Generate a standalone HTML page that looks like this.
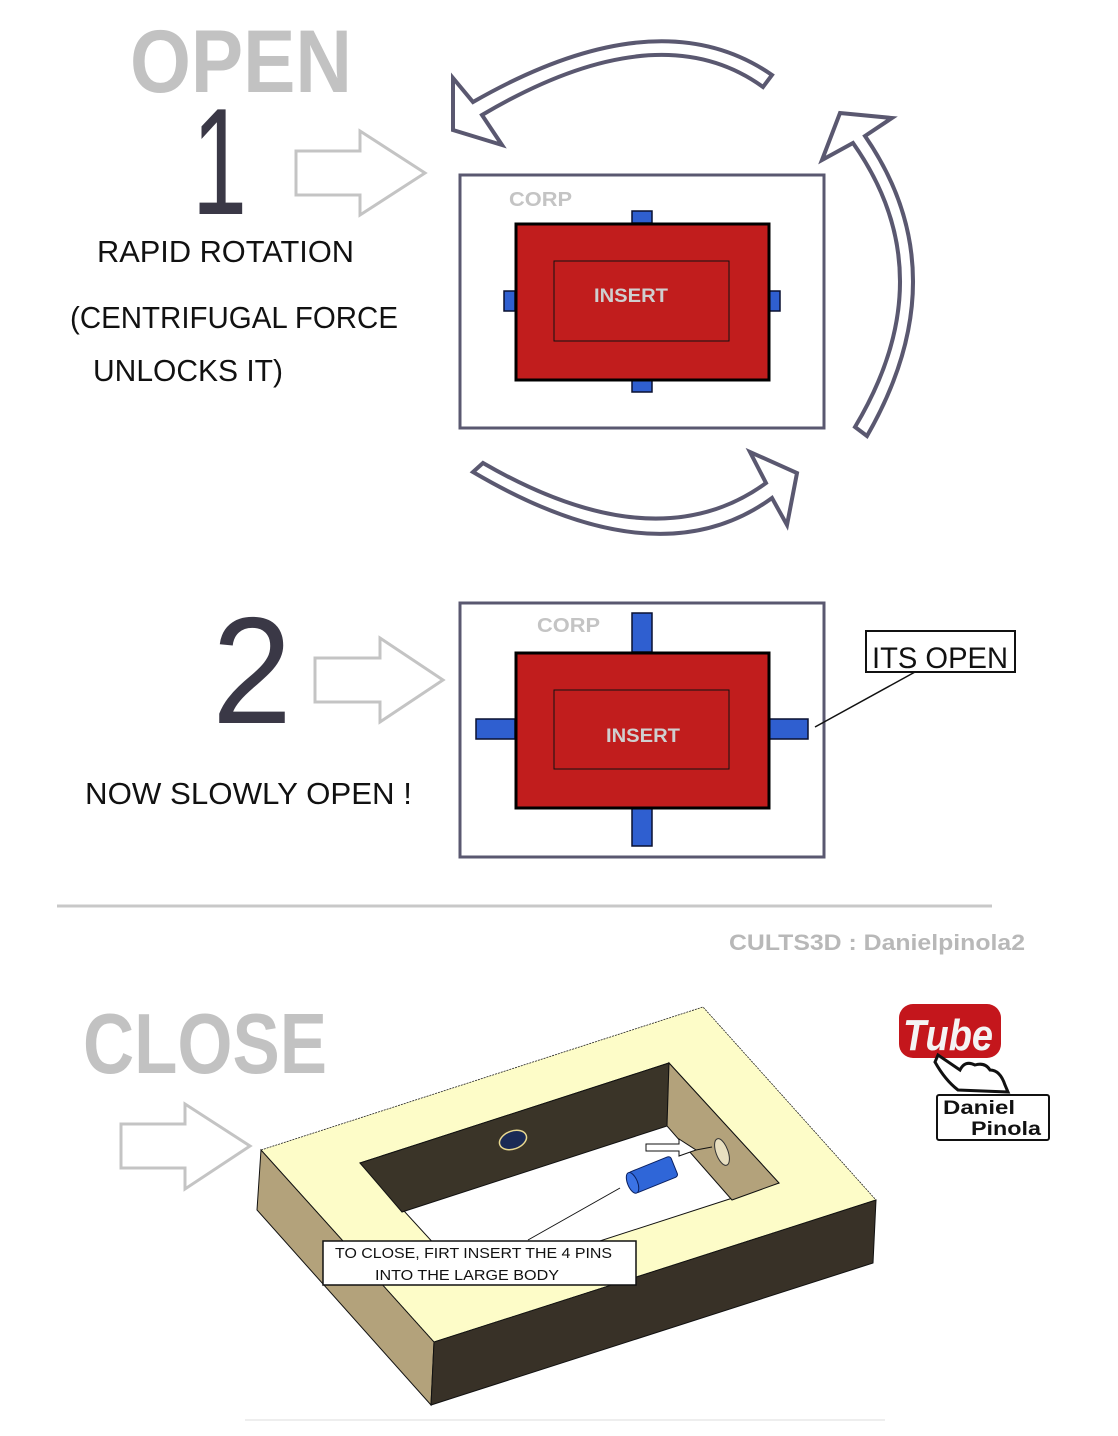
<!DOCTYPE html>
<html><head><meta charset="utf-8"><style>
html,body{margin:0;padding:0;background:#fff;}
svg{display:block;}
</style></head><body>
<svg width="1118" height="1436" viewBox="0 0 1118 1436" xmlns="http://www.w3.org/2000/svg" font-family="Liberation Sans, sans-serif">
<rect width="1118" height="1436" fill="#fff"/>
<!-- titles -->
<text x="130" y="92" font-size="89" font-weight="bold" fill="#c2c2c2" textLength="222" lengthAdjust="spacingAndGlyphs">OPEN</text>
<text x="192" y="214" font-size="152" fill="#3a3846" textLength="55" lengthAdjust="spacingAndGlyphs">1</text>
<text x="97" y="262" font-size="31" fill="#111" textLength="257" lengthAdjust="spacingAndGlyphs">RAPID ROTATION</text>
<text x="70" y="328" font-size="31" fill="#111" textLength="328" lengthAdjust="spacingAndGlyphs">(CENTRIFUGAL FORCE</text>
<text x="93" y="381" font-size="31" fill="#111" textLength="190" lengthAdjust="spacingAndGlyphs">UNLOCKS IT)</text>
<text x="212" y="723" font-size="152" fill="#3a3846" textLength="80" lengthAdjust="spacingAndGlyphs">2</text>
<text x="85" y="804" font-size="31" fill="#111" textLength="327" lengthAdjust="spacingAndGlyphs">NOW SLOWLY OPEN !</text>

<!-- block arrows -->
<g fill="#fff" stroke="#c4c4c4" stroke-width="3" stroke-linejoin="miter">
<polygon points="296,151 360,151 360,131 425,173 360,215 360,195 296,195"/>
<polygon points="315,658 380,658 380,638 443,680 380,722 380,702 315,702"/>
<polygon points="121,1124 185,1124 185,1104 250,1146 185,1189 185,1168 121,1168"/>
</g>

<!-- rotation arrows -->
<g fill="#fff" stroke="#5a5870" stroke-width="4" stroke-linejoin="miter">
<path d="M772,75 Q658,-4 473,102 L453,78 L453,130 L502,145 L482,115 Q658,11 763,87 Z"/>
<path d="M867,436 Q960,274 865,136 L892,118 L840,113 L822,160 L853,143 Q946,275 855,427 Z"/>
<path d="M473,472 Q658,581 772,498 L787,525 L797,473 L750,452 L766,483 Q656,563 483,463 Z"/>
</g>

<!-- box 1 -->
<rect x="460" y="175" width="364" height="253" fill="#fff" stroke="#5a5870" stroke-width="3"/>
<text x="509" y="206" font-size="20" font-weight="bold" fill="#c4c4c4" textLength="63" lengthAdjust="spacingAndGlyphs">CORP</text>
<g fill="#2f5fd0" stroke="#0a1030" stroke-width="1.5">
<rect x="632" y="211" width="20" height="12"/><rect x="632" y="380" width="20" height="12"/>
<rect x="504" y="291" width="11" height="20"/><rect x="769" y="291" width="11" height="20"/>
</g>
<rect x="516" y="224" width="253" height="156" fill="#c11d1d" stroke="#000" stroke-width="3"/>
<rect x="554" y="261" width="175" height="80" fill="none" stroke="#111" stroke-width="1"/>
<text x="594" y="302" font-size="19" font-weight="bold" fill="#cfcfcf" textLength="74" lengthAdjust="spacingAndGlyphs">INSERT</text>

<!-- box 2 -->
<rect x="460" y="603" width="364" height="254" fill="#fff" stroke="#5a5870" stroke-width="3"/>
<text x="537" y="632" font-size="20" font-weight="bold" fill="#c4c4c4" textLength="63" lengthAdjust="spacingAndGlyphs">CORP</text>
<g fill="#2f5fd0" stroke="#0a1030" stroke-width="1.5">
<rect x="632" y="613" width="20" height="39"/><rect x="632" y="808" width="20" height="38"/>
<rect x="476" y="719" width="39" height="20"/><rect x="769" y="719" width="39" height="20"/>
</g>
<rect x="516" y="653" width="253" height="155" fill="#c11d1d" stroke="#000" stroke-width="3"/>
<rect x="554" y="690" width="175" height="79" fill="none" stroke="#111" stroke-width="1"/>
<text x="606" y="742" font-size="19" font-weight="bold" fill="#cfcfcf" textLength="74" lengthAdjust="spacingAndGlyphs">INSERT</text>

<line x1="915" y1="672" x2="815" y2="727" stroke="#111" stroke-width="1.5"/>
<rect x="866" y="631" width="149" height="41" fill="#fff" stroke="#111" stroke-width="2"/>
<text x="872" y="668" font-size="30" fill="#111" textLength="136" lengthAdjust="spacingAndGlyphs">ITS OPEN</text>

<line x1="57" y1="906" x2="992" y2="906" stroke="#c8c8c8" stroke-width="3"/>
<text x="729" y="950" font-size="22" font-weight="bold" fill="#b8b8b8" textLength="296" lengthAdjust="spacingAndGlyphs">CULTS3D : Danielpinola2</text>

<text x="83" y="1073" font-size="85" font-weight="bold" fill="#c2c2c2" textLength="244" lengthAdjust="spacingAndGlyphs">CLOSE</text>

<!-- 3D frame -->
<g stroke="#222" stroke-width="0.8" stroke-dasharray="2,1">
<polygon points="261,1150 703,1007 876,1200 434,1342" fill="#fdfcc8"/>
</g>
<g stroke="#111" stroke-width="1">
<polygon points="261,1150 434,1342 431,1405 257,1210" fill="#b3a27b"/>
<polygon points="434,1342 876,1200 873,1263 431,1405" fill="#383127"/>
<polygon points="360,1163 669,1063 779,1183 470,1283" fill="#fff"/>
<polygon points="360,1163 669,1063 667,1126 402,1212" fill="#3a3428"/>
<polygon points="669,1063 779,1183 732,1200 667,1126" fill="#b3a27b"/>
</g>
<ellipse cx="513" cy="1140" rx="14" ry="9" transform="rotate(-20 513 1140)" fill="#1a2a55" stroke="#e8d890" stroke-width="1.5"/>
<ellipse cx="722" cy="1152" rx="6" ry="14" transform="rotate(-20 722 1152)" fill="#e8dfc0" stroke="#333" stroke-width="1"/>
<polygon points="646,1144 679,1144 679,1139 696,1150 679,1156 679,1151 646,1151" fill="#fff" stroke="#111" stroke-width="1"/>
<line x1="696" y1="1150" x2="712" y2="1147" stroke="#111" stroke-width="1"/>
<g transform="rotate(-22 652 1175)">
<rect x="630" y="1164" width="46" height="22" rx="3" fill="#2f66d8" stroke="#0a2060" stroke-width="1"/>
<ellipse cx="631" cy="1175" rx="5" ry="11" fill="#3b73e6" stroke="#0a2060" stroke-width="1"/>
</g>
<line x1="528" y1="1240" x2="620" y2="1188" stroke="#111" stroke-width="1"/>
<rect x="323" y="1241" width="313" height="44" fill="#fff" stroke="#111" stroke-width="1.5"/>
<text x="335" y="1258" font-size="15" fill="#111" textLength="277" lengthAdjust="spacingAndGlyphs">TO CLOSE, FIRT INSERT THE 4 PINS</text>
<text x="375" y="1280" font-size="15" fill="#111" textLength="184" lengthAdjust="spacingAndGlyphs">INTO THE LARGE BODY</text>
<line x1="245" y1="1420" x2="885" y2="1420" stroke="#eee" stroke-width="2"/>

<!-- youtube logo -->
<rect x="899" y="1004" width="102" height="54" rx="14" fill="#c4161c"/>
<text x="903" y="1050" font-size="44" font-weight="bold" font-style="italic" fill="#f4f4f4" textLength="90" lengthAdjust="spacingAndGlyphs">Tube</text>
<path d="M938,1055 L960,1070 Q965,1060 975,1065 Q985,1062 990,1070 Q1000,1070 1005,1085 L1008,1092 L958,1090 Q945,1080 935,1062 Z" fill="#fff" stroke="#111" stroke-width="3"/>
<rect x="937" y="1095" width="112" height="45" rx="2" fill="#fff" stroke="#111" stroke-width="2"/>
<text x="943" y="1114" font-size="19" font-weight="bold" fill="#111" textLength="72" lengthAdjust="spacingAndGlyphs">Daniel</text>
<text x="971" y="1135" font-size="19" font-weight="bold" fill="#111" textLength="70" lengthAdjust="spacingAndGlyphs">Pinola</text>
</svg>
</body></html>
